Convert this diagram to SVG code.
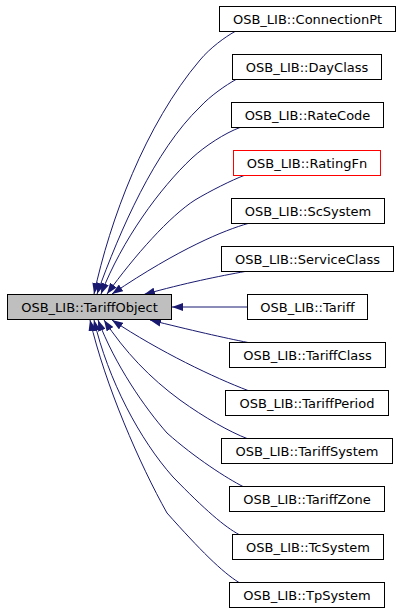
<svg xmlns="http://www.w3.org/2000/svg" width="400" height="611" viewBox="0 0 400 611">
<style>
.n rect{fill:#ffffff;stroke:#000000;stroke-width:1}
.n text{font-family:"DejaVu Sans","Liberation Sans",sans-serif;font-size:13px;fill:#000000;text-anchor:middle}
#edges path{fill:none;stroke:#191970;stroke-width:1}
</style>
<defs>
<marker id="ah" markerUnits="userSpaceOnUse" markerWidth="11" markerHeight="8" refX="11" refY="4" orient="auto">
<path d="M0,0 L11,4 L0,8 z" fill="#191970" stroke="none"/>
</marker>
</defs>
<rect width="400" height="611" fill="#ffffff"/>
<g id="edges">
<path marker-end="url(#ah)" d="M235,31.5 C225,37 210,48 200,60 C145,125 110,220 94,294"/>
<path marker-end="url(#ah)" d="M236,79.5 C226,85 210,96 200,107 C155,150 120,230 97,294"/>
<path marker-end="url(#ah)" d="M240,127.5 C225,133 205,146 192,158 C160,188 122,240 101,294"/>
<path marker-end="url(#ah)" d="M244,175.5 C232,180 210,191 195,200 C170,216 135,255 107,294"/>
<path marker-end="url(#ah)" d="M248,223.5 C225,230 180,248 112,294"/>
<path marker-end="url(#ah)" d="M245,271.5 C220,276 185,283 144,294.5"/>
<path marker-end="url(#ah)" d="M247.5,307 L172,307"/>
<path marker-end="url(#ah)" d="M248,342.5 C225,338 190,330 150,320"/>
<path marker-end="url(#ah)" d="M248,390.5 C215,378 160,352 112,320"/>
<path marker-end="url(#ah)" d="M247,438.5 C230,432 205,418 180,400 C150,378 125,352 104,320"/>
<path marker-end="url(#ah)" d="M243,486.5 C228,479 195,458 167,433 C145,408 115,365 98,320"/>
<path marker-end="url(#ah)" d="M239,534.5 C225,527 205,510 173,477 C140,440 108,380 94,320"/>
<path marker-end="url(#ah)" d="M239,582.5 C222,572 200,550 167,513 C140,465 105,385 90,320"/>
</g>
<g id="TariffObject" class="n"><rect x="7.5" y="294.5" width="164" height="25" style="fill:#bfbfbf"/><text x="89.5" y="311.5">OSB_LIB::TariffObject</text></g>
<g id="ConnectionPt" class="n"><rect x="219.5" y="6.5" width="176" height="25"/><text x="307.5" y="23.5">OSB_LIB::ConnectionPt</text></g>
<g id="DayClass" class="n"><rect x="232.5" y="54.5" width="149" height="25"/><text x="307" y="71.5">OSB_LIB::DayClass</text></g>
<g id="RateCode" class="n"><rect x="231.5" y="102.5" width="152" height="25"/><text x="307.5" y="119.5">OSB_LIB::RateCode</text></g>
<g id="RatingFn" class="n"><rect x="233.5" y="150.5" width="147" height="25" style="stroke:#ff0000"/><text x="307" y="167.5">OSB_LIB::RatingFn</text></g>
<g id="ScSystem" class="n"><rect x="231.5" y="198.5" width="153" height="25"/><text x="308" y="215.5">OSB_LIB::ScSystem</text></g>
<g id="ServiceClass" class="n"><rect x="221.5" y="246.5" width="172" height="25"/><text x="307.5" y="263.5">OSB_LIB::ServiceClass</text></g>
<g id="Tariff" class="n"><rect x="247.5" y="294.5" width="120" height="25"/><text x="307.5" y="311.5">OSB_LIB::Tariff</text></g>
<g id="TariffClass" class="n"><rect x="229.5" y="342.5" width="156" height="25"/><text x="307.5" y="359.5">OSB_LIB::TariffClass</text></g>
<g id="TariffPeriod" class="n"><rect x="225.5" y="390.5" width="163" height="25"/><text x="307" y="407.5">OSB_LIB::TariffPeriod</text></g>
<g id="TariffSystem" class="n"><rect x="221.5" y="438.5" width="171" height="25"/><text x="307" y="455.5">OSB_LIB::TariffSystem</text></g>
<g id="TariffZone" class="n"><rect x="229.5" y="486.5" width="155" height="25"/><text x="307" y="503.5">OSB_LIB::TariffZone</text></g>
<g id="TcSystem" class="n"><rect x="232.5" y="534.5" width="151" height="25"/><text x="308" y="551.5">OSB_LIB::TcSystem</text></g>
<g id="TpSystem" class="n"><rect x="229.5" y="582.5" width="155" height="25"/><text x="307" y="599.5">OSB_LIB::TpSystem</text></g>
</svg>
